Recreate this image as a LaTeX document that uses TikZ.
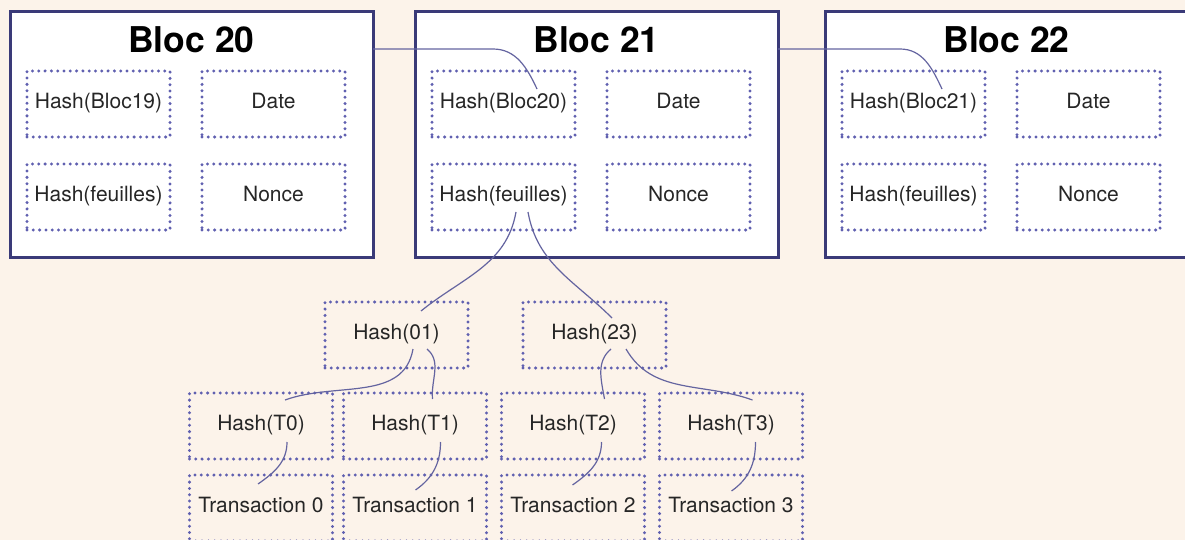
\documentclass[tikz,border=0pt]{standalone}
\usepackage{fontspec}
\setmainfont{TeX Gyre Heros}
\usepackage{tikz}
\usetikzlibrary{positioning}
\usepackage{xcolor}
\definecolor{bg-cream}{RGB}{252,243,234}
\definecolor{bloc-navy}{RGB}{58,58,120}
\definecolor{dot-blue}{RGB}{96,96,176}
\definecolor{link-blue}{RGB}{100,100,160}

\tikzset{
  bloc/.style={draw=bloc-navy, line width=3pt, fill=white, minimum width=363pt, minimum height=245pt, inner sep=0pt, outer sep=0pt},
  titre/.style={font=\fontsize{35.5}{40}\selectfont\bfseries},
  cell/.style={draw=dot-blue, line width=3.3pt, dash pattern=on 0pt off 6.3pt, line cap=round, minimum width=143pt, minimum height=66pt, inner sep=0pt, outer sep=0pt, text height=14pt, text depth=5pt, font=\fontsize{21}{24}\selectfont, text=black!85},
  link/.style={draw=link-blue, line width=1.2pt}
}

\begin{document}
\begin{tikzpicture}[x=1pt, y=1pt, node distance=16pt]
	\fill[bg-cream] (0,0) rectangle (1185,-540);
	\useasboundingbox (0,0) rectangle (1185,-540);
	% la chaine
	\node[bloc] (b20) at (191.5,-134.5) {};
	\node[bloc, right=42pt of b20] (b21) {};
	\node[bloc, right=47pt of b21] (b22) {};
	\node[titre] (t20) at ([yshift=-28pt]b20.north) {Bloc 20};
	\node[titre] (t21) at ([yshift=-28pt]b21.north) {Bloc 21};
	\node[titre] (t22) at ([yshift=-28pt]b22.north) {Bloc 22};
	% en-tetes
	\node[cell, below right=59pt and 17pt of b20.north west] (h19) {Hash(Bloc19)};
	\node[cell, right=32pt of h19] (d20) {Date};
	\node[cell, below=27pt of h19] (f20) {Hash(feuilles)};
	\node[cell, right=32pt of f20] (n20) {Nonce};
	\node[cell, below right=59pt and 17pt of b21.north west] (h20) {Hash(Bloc20)};
	\node[cell, right=32pt of h20] (d21) {Date};
	\node[cell, below=27pt of h20] (f21) {Hash(feuilles)};
	\node[cell, right=32pt of f21] (n21) {Nonce};
	\node[cell, below right=59pt and 17pt of b22.north west] (h21) {Hash(Bloc21)};
	\node[cell, right=32pt of h21] (d22) {Date};
	\node[cell, below=27pt of h21] (f22) {Hash(feuilles)};
	\node[cell, right=32pt of f22] (n22) {Nonce};
	% arbre de Merkle
	\node[cell] (h01) at (396.5,-335) {Hash(01)};
	\node[cell, right=55pt of h01] (h23) {Hash(23)};
	\node[cell] (ht0) at (261,-426) {Hash(T0)};
	\node[cell, right=11pt of ht0] (ht1) {Hash(T1)};
	\node[cell, right=15pt of ht1] (ht2) {Hash(T2)};
	\node[cell, right=15pt of ht2] (ht3) {Hash(T3)};
	\node[cell, below=16pt of ht0] (tx0) {Transaction 0};
	\node[cell, below=16pt of ht1] (tx1) {Transaction 1};
	\node[cell, below=16pt of ht2] (tx2) {Transaction 2};
	\node[cell, below=16pt of ht3] (tx3) {Transaction 3};
	% liens
	\draw[link] ([yshift=85.5pt]b20.east) -- ++(120pt,0) to[out=0, in=115] ([shift={(33.5pt,15pt)}]h20.center);
	\draw[link] ([yshift=85.5pt]b21.east) -- ++(122pt,0) to[out=0, in=115] ([shift={(28.5pt,15pt)}]h21.center);
	\draw[link] ([shift={(12.5pt,-15pt)}]f21.center) to[out=-100, in=39] ([shift={(24.5pt,24pt)}]h01.center);
	\draw[link] ([shift={(24.5pt,-15pt)}]f21.center) to[out=-80, in=135] ([shift={(17.5pt,17pt)}]h23.center);
	\draw[link] ([shift={(16.5pt,-14pt)}]h01.center) to[out=-100, in=20] ([shift={(24pt,26pt)}]ht0.center);
	\draw[link] ([shift={(30.5pt,-14pt)}]h01.center) to[out=-40, in=95] ([shift={(17.5pt,27pt)}]ht1.center);
	\draw[link] ([shift={(16.5pt,-14pt)}]h23.center) to[out=-140, in=100] ([shift={(31.5pt,27pt)}]ht2.center);
	\draw[link] ([shift={(31.5pt,-14pt)}]h23.center) to[out=-60, in=160] ([shift={(21.5pt,26pt)}]ht3.center);
	\draw[link] ([shift={(26pt,-16pt)}]ht0.center) to[out=-90, in=35] ([shift={(-3pt,24pt)}]tx0.center);
	\draw[link] ([shift={(25.5pt,-16pt)}]ht1.center) to[out=-90, in=35] ([shift={(0.5pt,18pt)}]tx1.center);
	\draw[link] ([shift={(28.5pt,-16pt)}]ht2.center) to[out=-90, in=35] ([shift={(-0.5pt,23pt)}]tx2.center);
	\draw[link] ([shift={(24.5pt,-16pt)}]ht3.center) to[out=-90, in=35] ([shift={(0.5pt,17pt)}]tx3.center);
\end{tikzpicture}
\end{document}
